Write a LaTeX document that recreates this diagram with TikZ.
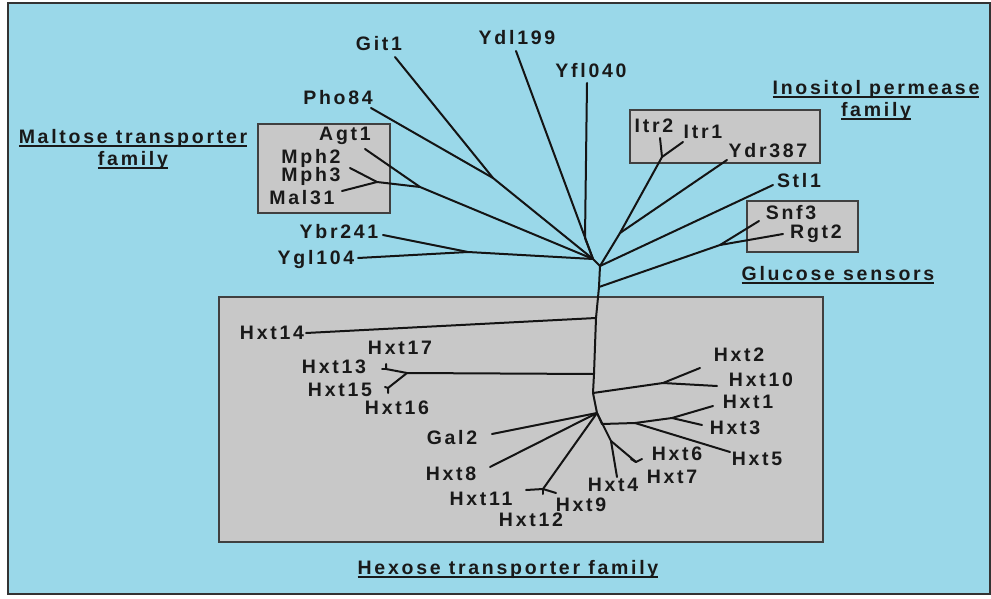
\documentclass[tikz,border=0pt]{standalone}
\usepackage{fontspec}
\setmainfont{Liberation Sans}[LetterSpace=14]
\definecolor{bgblue}{RGB}{154,216,233}
\definecolor{boxgray}{RGB}{200,200,200}
\definecolor{edge}{RGB}{20,20,20}
\newcommand\myul[1]{\setbox0=\hbox{#1}\rlap{\rule[-3.8pt]{\wd0}{2pt}}\box0}
\tikzset{
  lab/.style={inner sep=0pt, font=\fontsize{19.5}{22}\selectfont\bfseries, text=black!90},
  head/.style={lab, align=center},
  famBox/.style={draw=black!75, line width=1.8pt, fill=boxgray},
  br/.style={draw=edge, line width=2pt, line cap=round, line join=round}
}
\begin{document}
\begin{tikzpicture}[x=1pt,y=-1pt]
\useasboundingbox (0,0) rectangle (991,599);
\fill[white] (0,0) rectangle (991,599);
\draw[fill=bgblue, draw=black!80, line width=1.8pt] (8,3) rectangle (990,594);
% family boxes
\draw[famBox] (258,124) rectangle (390,213);
\draw[famBox] (630,110) rectangle (820,163);
\draw[famBox] (747,201) rectangle (858,252);
\draw[famBox] (219,297) rectangle (823,542);
% headings
\node[head] (hmal) at (133,149) {\myul{Maltose transporter}\\\myul{family}};
\node[head] (hino) at (876,100) {\myul{Inositol permease}\\\myul{family}};
\node[head] (hglu) at (838,275) {\myul{Glucose sensors}};
\node[head] (hhex) at (508,569) {\myul{Hexose transporter family}};
% labels
\node[lab] (Lgit) at (379,44) {Git1};
\node[lab] (Lydl) at (517,38) {Ydl199};
\node[lab] (Lyfl) at (591,71) {Yfl040};
\node[lab] (Lpho) at (338,98) {Pho84};
\node[lab] (Lagt) at (345,136) {Agt1};
\node[lab] (Lmph2) at (311,158) {Mph2};
\node[lab] (Lmph3) at (311,176) {Mph3};
\node[lab] (Lmal) at (302,198) {Mal31};
\node[lab] (Lybr) at (339,232) {Ybr241};
\node[lab] (Lygl) at (316,260) {Ygl104};
\node[lab] (Litr2) at (654,126) {Itr2};
\node[lab] (Litr1) at (703,132) {Itr1};
\node[lab] (Lydr) at (768,151) {Ydr387};
\node[lab] (Lstl) at (799,181) {Stl1};
\node[lab] (Lsnf) at (791,213) {Snf3};
\node[lab] (Lrgt) at (816,234) {Rgt2};
\node[lab] (L14) at (272,333) {Hxt14};
\node[lab] (L17) at (400,348) {Hxt17};
\node[lab] (L13) at (334,367) {Hxt13};
\node[lab] (L15) at (340,390) {Hxt15};
\node[lab] (L16) at (397,408) {Hxt16};
\node[lab] (Lgal) at (452,438) {Gal2};
\node[lab] (L8) at (451,474) {Hxt8};
\node[lab] (L11) at (481,499) {Hxt11};
\node[lab] (L12) at (531,520) {Hxt12};
\node[lab] (L9) at (581,505) {Hxt9};
\node[lab] (L4) at (613,485) {Hxt4};
\node[lab] (L7) at (672,477) {Hxt7};
\node[lab] (L6) at (677,454) {Hxt6};
\node[lab] (L5) at (757,459) {Hxt5};
\node[lab] (L3) at (735,428) {Hxt3};
\node[lab] (L1) at (748,402) {Hxt1};
\node[lab] (L10) at (761,380) {Hxt10};
\node[lab] (L2) at (739,355) {Hxt2};
% tree coordinates
\coordinate (H) at (593,259);
\coordinate (T0) at (600,266);
\coordinate (T1) at (599,287);
\coordinate (T3) at (596,318);
\coordinate (T4) at (594,374);
\coordinate (T5) at (593,393);
\coordinate (T6) at (597,413);
% upper left
\coordinate (eygl) at (358,258);
\coordinate (eybr) at (383,235);
\coordinate (Jyb) at (468,252);
\coordinate (eagt) at (365,149);
\coordinate (emph) at (350,168);
\coordinate (emal) at (342,191);
\coordinate (Jmm) at (377,182);
\coordinate (Jmal) at (420,187);
\coordinate (epho) at (371,108);
\coordinate (egit) at (395,57);
\coordinate (Jpg) at (493,178);
\coordinate (eydl) at (516,51);
\coordinate (eyfl) at (587,83);
\coordinate (Jyf) at (585,238);
% upper right
\coordinate (Jitr2) at (662,157);
\coordinate (eitr2) at (660,138);
\coordinate (eitr1) at (683,142);
\coordinate (Jitr) at (620,233);
\coordinate (eydr) at (727,160);
\coordinate (estl) at (773,185);
\coordinate (esnf) at (759,221);
\coordinate (ergt) at (783,234);
\coordinate (Jgl) at (720,245);
% hexose
\coordinate (e14) at (306,333);
\coordinate (J13) at (407,373);
\coordinate (s13) at (386,369);
\coordinate (s13t) at (386,364);
\coordinate (s13l) at (382,369);
\coordinate (s15) at (388,388);
\coordinate (s15t) at (388,393);
\coordinate (s15l) at (385,387);
\coordinate (J2) at (663,383);
\coordinate (e2) at (700,368);
\coordinate (e10) at (717,386);
\coordinate (egal) at (492,434);
\coordinate (e8) at (490,467);
\coordinate (J11) at (543,489);
\coordinate (e11) at (526,490);
\coordinate (e9) at (556,493);
\coordinate (e12) at (543,494);
\coordinate (A) at (602,424);
\coordinate (B) at (635,423);
\coordinate (J1) at (672,418);
\coordinate (e1) at (713,406);
\coordinate (e3) at (702,425);
\coordinate (e5) at (730,452);
\coordinate (J4) at (611,441);
\coordinate (e4) at (617,477);
\coordinate (J67) at (636,462);
\coordinate (e6) at (642,459);
\coordinate (e7) at (631,459);
% branches
\draw[br] (H) -- (T0) -- (T1) -- (T3) -- (T4) -- (T5) -- (T6);
\draw[br] (eygl) -- (Jyb) -- (H);
\draw[br] (eybr) -- (Jyb);
\draw[br] (eagt) -- (Jmal) -- (H);
\draw[br] (emph) -- (Jmm) -- (Jmal);
\draw[br] (emal) -- (Jmm);
\draw[br] (epho) -- (Jpg) -- (H);
\draw[br] (egit) -- (Jpg);
\draw[br] (eydl) -- (H);
\draw[br] (eyfl) -- (Jyf) -- (H);
\draw[br] (eitr2) -- (Jitr2) -- (Jitr) -- (T0);
\draw[br] (eitr1) -- (Jitr2);
\draw[br] (eydr) -- (Jitr);
\draw[br] (estl) -- (T0);
\draw[br] (esnf) -- (Jgl) -- (T1);
\draw[br] (ergt) -- (Jgl);
\draw[br] (e14) -- (T3);
\draw[br] (T4) -- (J13) -- (s13) -- (s13t);
\draw[br] (s13) -- (s13l);
\draw[br] (J13) -- (s15) -- (s15t);
\draw[br] (s15) -- (s15l);
\draw[br] (T5) -- (J2) -- (e2);
\draw[br] (J2) -- (e10);
\draw[br] (egal) -- (T6);
\draw[br] (e8) -- (T6);
\draw[br] (T6) -- (J11) -- (e11);
\draw[br] (J11) -- (e9);
\draw[br] (J11) -- (e12);
\draw[br] (T6) -- (A) -- (B) -- (J1) -- (e1);
\draw[br] (J1) -- (e3);
\draw[br] (B) -- (e5);
\draw[br] (T6) -- (J4) -- (e4);
\draw[br] (J4) -- (J67) -- (e6);
\draw[br] (J67) -- (e7);
\end{tikzpicture}
\end{document}
